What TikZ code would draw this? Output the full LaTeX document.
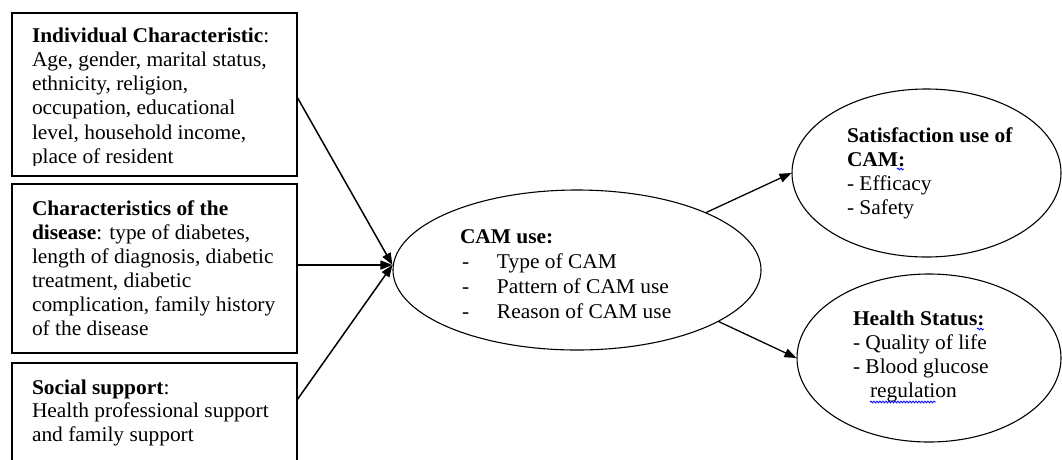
\documentclass[tikz,border=0pt]{standalone}
\usepackage{fontspec}
\setmainfont[FakeStretch=1.02]{Liberation Serif}
\usetikzlibrary{arrows.meta,shapes.geometric,decorations.pathmorphing}
\tikzset{
  boxnode/.style={draw, line width=1.3pt, minimum width=285pt, inner sep=0pt, rectangle},
  ovalnode/.style={draw, line width=1.1pt, ellipse, inner sep=0pt},
  txt/.style={anchor=base west, inner sep=0pt, outer sep=0pt},
  conn/.style={line width=1.5pt, -{Triangle[length=12pt,width=9pt]}},
  squig/.style={blue, line width=0.8pt, decorate, decoration={snake, amplitude=0.9pt, segment length=3pt}}
}
\newcommand{\bxa}{\fontsize{21}{24.3}\selectfont}
\newcommand{\bxb}{\fontsize{21}{24}\selectfont}
\newcommand{\bxs}{\fontsize{21}{23.5}\selectfont}
\newcommand{\ov}{\fontsize{21}{25}\selectfont}
\newcommand{\ovs}{\fontsize{21}{24.2}\selectfont}
\begin{document}
\begin{tikzpicture}[x=1pt,y=-1pt]
\path[use as bounding box] (0,0) rectangle (1062,459);
\clip (0,0) rectangle (1062,459);
\fill[white] (0,0) rectangle (1062,459);

% left boxes
\node[boxnode, minimum height=163pt] (b1) at (154.5,94.5) {};
\node[boxnode, minimum height=169pt] (b2) at (154.5,268.5) {};
\node[boxnode, minimum height=200pt] (b3) at (154.5,463) {};
\coordinate (b3o) at (297,400);

\begin{scope}
\clip (14,14) rectangle (296,165);
\node[txt] (t1) at (32,42) {\bxa\begin{tabular}[t]{@{}l@{}}
\textbf{Individual Characteristic}:\\
Age, gender, marital status,\\
ethnicity, religion,\\
occupation, educational\\
level, household income,\\
place of resident
\end{tabular}};
\end{scope}

\node[txt] (t2) at (32,215) {\bxb\begin{tabular}[t]{@{}l@{}}
\textbf{Characteristics of the}\\
\textbf{disease}: type of diabetes,\\
length of diagnosis, diabetic\\
treatment, diabetic\\
complication, family history\\
of the disease
\end{tabular}};

\node[txt] (t3) at (32,394) {\bxs\begin{tabular}[t]{@{}l@{}}
\textbf{Social support}:\\
Health professional support\\
and family support
\end{tabular}};

% ellipses
\node[ovalnode, minimum width=368pt, minimum height=160pt] (cam) at (577,270) {};
\node[ovalnode, minimum width=269pt, minimum height=168pt] (sat) at (926.5,173) {};
\node[ovalnode, minimum width=264pt, minimum height=168pt] (hs) at (929,358) {};

\node[txt] (tc) at (460,243) {\ov\begin{tabular}[t]{@{}l@{}}
\textbf{CAM use:}\\
\makebox[37pt][l]{\hspace*{2pt}-}Type of CAM\\
\makebox[37pt][l]{\hspace*{2pt}-}Pattern of CAM use\\
\makebox[37pt][l]{\hspace*{2pt}-}Reason of CAM use
\end{tabular}};

\node[txt] (ts) at (847,142) {\ovs\begin{tabular}[t]{@{}l@{}}
\textbf{Satisfaction use of}\\
\textbf{CAM:}\\
- Efficacy\\
- Safety
\end{tabular}};

\node[txt] (th) at (853,325) {\ovs\begin{tabular}[t]{@{}l@{}}
\textbf{Health Status:}\\
- Quality of life\\
- Blood glucose\\
\hspace*{17pt}regulation
\end{tabular}};

% spell-check squiggles
\draw[squig] (897,169) -- (904,169);
\draw[squig] (977,329) -- (984,329);
\draw[squig] (870,402) -- (936,402);

% connectors
\draw[conn] ([yshift=-3.5pt]b1.east) -- ([yshift=5pt]cam.west);
\draw[conn] ([yshift=3.5pt]b2.east) -- ([yshift=5pt]cam.west);
\draw[conn] (b3o) -- ([yshift=5pt]cam.west);
\draw[conn, line width=1.3pt] (cam.24) -- (sat.west);
\draw[conn, line width=1.3pt] (cam.-20) -- (hs.west);
\end{tikzpicture}
\end{document}
